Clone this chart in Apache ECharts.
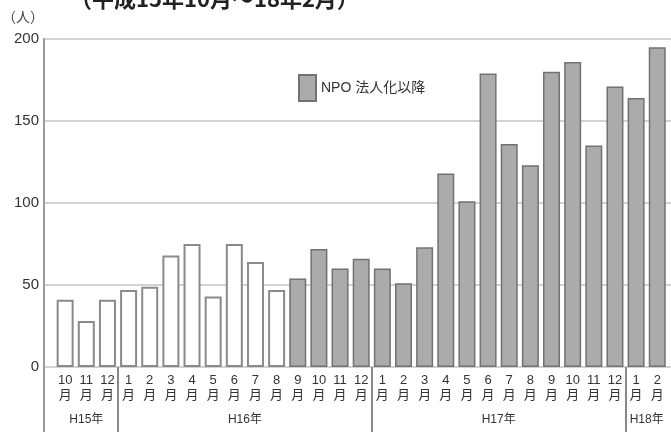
<!DOCTYPE html>
<html>
<head>
<meta charset="utf-8">
<script src="https://cdn.jsdelivr.net/npm/echarts@6/dist/echarts.min.js"></script>
<style>
  html, body { margin: 0; padding: 0; background: #fff; }
  #chart { width: 671px; height: 432px; }
</style>
</head>
<body>
<div id="chart"></div>
<script>
// ---- data ----
const titleText = '（平成15年10月～18年2月）';
const unitText = '（人）';
const legendName = 'NPO 法人化以降';
const years = ['H15年', 'H16年', 'H17年', 'H18年'];
const monthsH15 = [10, 11, 12];
const valuesH15 = [41, 28, 41];
const monthsH16 = [1, 2, 3, 4, 5, 6, 7, 8, 9, 10, 11, 12];
const valuesH16 = [47, 49, 68, 75, 43, 75, 64, 47, 54, 72, 60, 66];
const monthsH17 = [1, 2, 3, 4, 5, 6, 7, 8, 9, 10, 11, 12];
const valuesH17 = [60, 51, 73, 118, 101, 179, 136, 123, 180, 186, 135, 171];
const monthsH18 = [1, 2];
const valuesH18 = [164, 195];
const npoStartYear = 'H16年';
const npoStartMonth = 9;
const yTicks = [0, 50, 100, 150, 200];

// ---- build flat arrays ----
const monthGroups = [monthsH15, monthsH16, monthsH17, monthsH18];
const valueGroups = [valuesH15, valuesH16, valuesH17, valuesH18];
const monthLabels = [];
const values = [];
let npoStart = 0;
monthGroups.forEach((ms, g) => {
  ms.forEach((m, i) => {
    if (years[g] === npoStartYear && m === npoStartMonth) npoStart = values.length;
    monthLabels.push(m + '\n月');
    values.push(valueGroups[g][i]);
  });
});
const beforeData = [];
const afterData = [];
values.forEach((v, i) => { (i < npoStart ? beforeData : afterData).push([i, v]); });

const chart = echarts.init(document.getElementById('chart'));
const fontFam = '"Liberation Sans", "Noto Sans CJK JP", sans-serif';

chart.setOption({
  animation: false,
  textStyle: { fontFamily: fontFam },
  grid: { left: 44, right: 0, top: 39, bottom: 65, containLabel: false, outerBoundsMode: 'none' },
  legend: {
    data: [legendName],
    left: 293, top: 69,
    itemWidth: 17, itemHeight: 26,
    icon: 'rect',
    textStyle: { fontSize: 14, color: '#333', fontFamily: fontFam }
  },
  xAxis: {
    type: 'value',
    min: -1, max: 28.65, interval: 1,
    axisLine: { show: false },
    axisTick: { show: false },
    splitLine: { show: false },
    axisLabel: {
      margin: 6,
      fontSize: 13, lineHeight: 15, color: '#333',
      showMaxLabel: false,
      formatter: v => (Number.isInteger(v) && v >= 0 && v < monthLabels.length) ? monthLabels[v] : ''
    }
  },
  yAxis: {
    type: 'value',
    min: yTicks[0], max: yTicks[yTicks.length - 1], interval: yTicks[1] - yTicks[0],
    name: unitText,
    nameLocation: 'end',
    nameGap: 14,
    nameTextStyle: { fontSize: 14, color: '#444', align: 'right', padding: [0, 0, 0, 0] },
    axisLine: { show: true, onZero: false, lineStyle: { color: '#999', width: 2 } },
    axisTick: { show: false },
    axisLabel: { fontSize: 15, color: '#333', margin: 5 },
    splitLine: { show: true, lineStyle: { color: '#c4c4c4', width: 1.5 } }
  },
  series: [
    {
      name: '以前',
      type: 'bar',
      barWidth: 17,
      barGap: '-100%',
      data: beforeData,
      itemStyle: { color: '#ffffff', borderColor: '#8a8a8a', borderWidth: 2 }
    },
    {
      name: legendName,
      type: 'bar',
      barWidth: 17,
      barGap: '-100%',
      data: afterData,
      itemStyle: { color: '#ababab', borderColor: '#727272', borderWidth: 1.5 }
    }
  ]
});

// ---- annotations: title, axis extension, year separators & labels ----
const graphics = [];
graphics.push({
  type: 'text', left: 70, top: -12,
  style: { text: titleText, fill: '#222', font: 'bold 22px "Noto Sans CJK JP", sans-serif' }
});
const axisX = chart.convertToPixel({ xAxisIndex: 0 }, -1);
const baseY = chart.convertToPixel({ yAxisIndex: 0 }, 0);
graphics.push({
  type: 'line', shape: { x1: axisX, y1: baseY, x2: axisX, y2: 432 },
  style: { stroke: '#999', lineWidth: 2 }
});
let start = 0;
monthGroups.forEach((ms, g) => {
  const end = start + ms.length;
  if (g > 0) {
    const sx = Math.round(chart.convertToPixel({ xAxisIndex: 0 }, start - 0.5));
    graphics.push({
      type: 'line', shape: { x1: sx, y1: baseY, x2: sx, y2: 432 },
      style: { stroke: '#888', lineWidth: 2 }
    });
  }
  const cx = chart.convertToPixel({ xAxisIndex: 0 }, (start + end - 1) / 2);
  graphics.push({
    type: 'text', x: cx, y: 420,
    style: { text: years[g], fill: '#333', align: 'center', verticalAlign: 'middle', font: '12px "Liberation Sans", "Noto Sans CJK JP", sans-serif' }
  });
  start = end;
});
chart.setOption({ graphic: graphics });
</script>
</body>
</html>
